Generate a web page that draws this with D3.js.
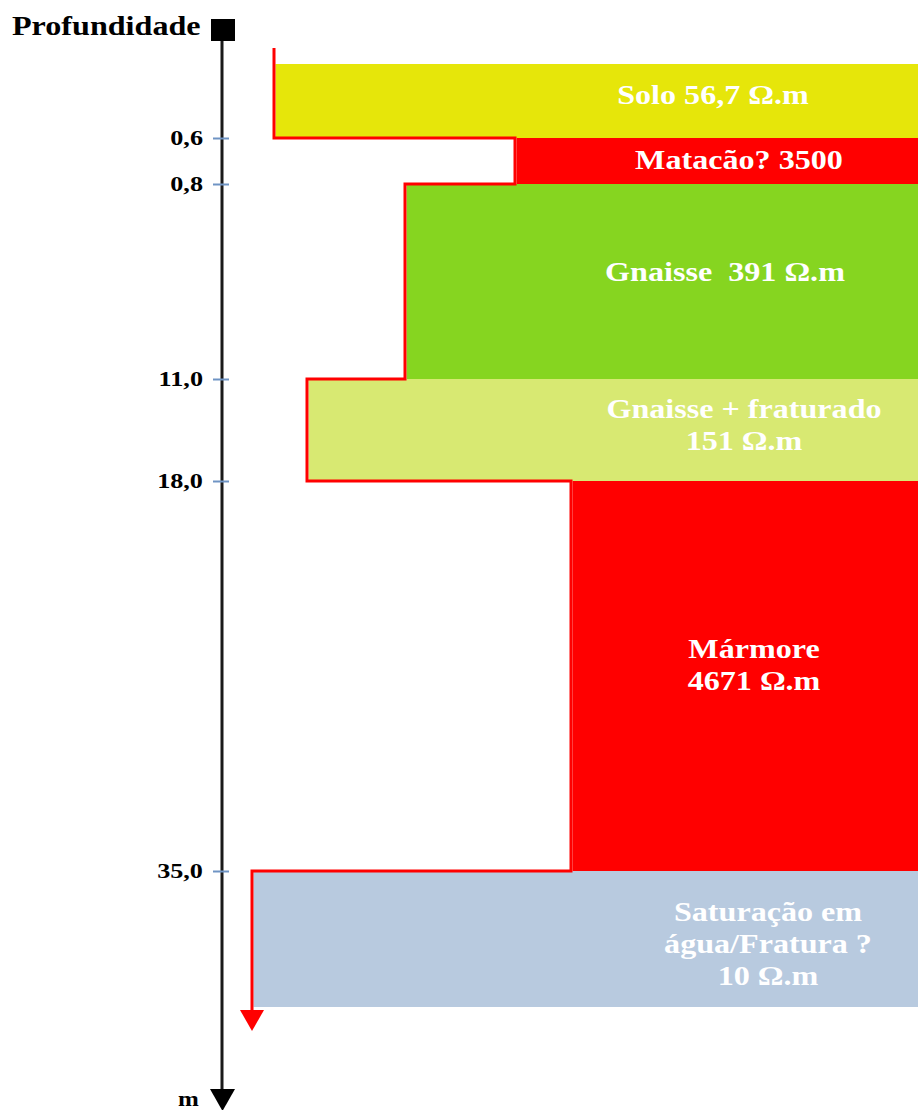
<!DOCTYPE html>
<html>
<head>
<meta charset="utf-8">
<script src="https://cdn.jsdelivr.net/npm/d3@7/dist/d3.min.js"></script>
<style>
  html, body { margin: 0; padding: 0; background: #fff; }
  svg { display: block; }
  text { font-family: "Liberation Serif", "Times New Roman", serif; font-weight: bold; white-space: pre; }
</style>
</head>
<body>
<svg id="chart" width="918" height="1110"></svg>
<script>
// ---------------- DATA ----------------
const layerNames   = ["Solo", "Matacão", "Gnaisse", "Gnaisse + fraturado", "Mármore", "Saturação em água/Fratura"];
const layerLabels  = [
  ["Solo 56,7 Ω.m"],
  ["Matacão? 3500"],
  ["Gnaisse  391 Ω.m"],
  ["Gnaisse + fraturado", "151 Ω.m"],
  ["Mármore", "4671 Ω.m"],
  ["Saturação em", "água/Fratura ?", "10 Ω.m"]
];
const layerTop     = [0, 0.6, 0.8, 11.0, 18.0, 35.0];      // m
const layerBottom  = [0.6, 0.8, 11.0, 18.0, 35.0, 40.0];   // m (last one estimated)
const resistivity  = [56.7, 3500, 391, 151, 4671, 10];     // Ω.m
const depthTicks   = [0.6, 0.8, 11.0, 18.0, 35.0];
const axisTitle    = "Profundidade";
const axisUnit     = "m";

// ---------------- STYLE / LAYOUT ----------------
const layerColors = ["#e6e60a", "#ff0000", "#86d520", "#d8e972", "#ff0000", "#b8cadf"];
const labelCx = [713, 739, 725, 744, 754, 768];
const labelDy = [-6, -1, -9, -5, -11, 5];
const stretch = 1.19;   // horizontal stretch of the original lettering
const W = 918, H = 1110;
const axisX = 222;

const svg = d3.select("#chart");

// piecewise depth scale (schematic, non-linear depth axis)
const y = d3.scaleLinear()
  .domain([0, 0.6, 0.8, 11, 18, 35, 40])
  .range([64, 138, 184, 379, 481, 871, 1007]);

// schematic resistivity scale (monotonic, piecewise)
const x = d3.scaleLinear()
  .domain([10, 56.7, 151, 391, 3500, 4671])
  .range([252, 274, 307, 405, 515, 571]);

const layers = layerNames.map((n, i) => ({
  name: n, top: layerTop[i], bottom: layerBottom[i], rho: resistivity[i],
  color: layerColors[i], label: layerLabels[i], cx: labelCx[i], dy: labelDy[i]
}));

// ---------------- LAYER BOXES ----------------
svg.append("g").selectAll("rect").data(layers).join("rect")
  .attr("x", d => x(d.rho) + 1.5)
  .attr("y", d => y(d.top))
  .attr("width", d => W - x(d.rho))
  .attr("height", d => y(d.bottom) - y(d.top))
  .attr("fill", d => d.color);

// ---------------- RESISTIVITY STEP LINE ----------------
const pts = [[x(layers[0].rho), y(0) - 16]];
layers.forEach((d, i) => {
  pts.push([x(d.rho), y(d.top)]);
  pts.push([x(d.rho), i === layers.length - 1 ? y(d.bottom) + 5 : y(d.bottom)]);
});
svg.append("path")
  .attr("d", d3.line()(pts))
  .attr("fill", "none")
  .attr("stroke", "#ff0000")
  .attr("stroke-width", 3)
  .attr("stroke-linejoin", "miter");
const lastX = x(layers[layers.length - 1].rho);
const lastY = y(layers[layers.length - 1].bottom) + 3;
svg.append("path")
  .attr("d", `M${lastX - 12},${lastY} L${lastX + 12},${lastY} L${lastX},${lastY + 21} Z`)
  .attr("fill", "#ff0000");

// ---------------- LAYER LABELS ----------------
const lineH = 32;
const fs = 27;
layers.forEach(d => {
  const mid = (y(d.top) + y(d.bottom)) / 2 + d.dy;
  const n = d.label.length;
  d.label.forEach((t, k) => {
    const cy = mid + (k - (n - 1) / 2) * lineH;
    svg.append("g")
      .attr("transform", `translate(${d.cx},${cy + fs * 0.33})`)
      .append("text")
      .attr("transform", `scale(${stretch},1)`)
      .attr("text-anchor", "middle")
      .attr("font-size", fs)
      .attr("fill", "#ffffff")
      .text(t);
  });
});

// ---------------- DEPTH AXIS ----------------
svg.append("line")
  .attr("x1", axisX).attr("x2", axisX)
  .attr("y1", 30).attr("y2", 1094)
  .attr("stroke", "#1a1a1a").attr("stroke-width", 3);
svg.append("rect")
  .attr("x", axisX - 11).attr("y", 19)
  .attr("width", 24).attr("height", 22)
  .attr("fill", "#000");
svg.append("path")
  .attr("d", `M${axisX - 12},${1089} L${axisX + 13},${1089} L${axisX + 0.5},${1111} Z`)
  .attr("fill", "#000");

const axis = d3.axisLeft(y)
  .tickValues(depthTicks)
  .tickSize(0)
  .tickFormat(d => d.toFixed(1).replace(".", ","));

const gAxis = svg.append("g")
  .attr("transform", `translate(${axisX},0)`)
  .call(axis);
gAxis.select(".domain").remove();
gAxis.selectAll(".tick line")
  .attr("x1", -9).attr("x2", 7)
  .attr("stroke", "#6f94c4").attr("stroke-width", 2);
gAxis.selectAll(".tick text")
  .attr("x", -16)
  .attr("dy", "0.3em")
  .attr("transform", `scale(${stretch},1)`)
  .attr("font-family", "Liberation Serif, serif")
  .attr("font-weight", "bold")
  .attr("font-size", 22)
  .attr("fill", "#000");

// title & unit
svg.append("g").attr("transform", "translate(12,35)")
  .append("text")
  .attr("transform", `scale(${stretch},1)`)
  .attr("font-size", 27)
  .attr("fill", "#000")
  .text(axisTitle);
svg.append("g").attr("transform", "translate(178,1106)")
  .append("text")
  .attr("transform", `scale(${stretch},1)`)
  .attr("font-size", 21)
  .attr("fill", "#000")
  .text(axisUnit);
</script>
</body>
</html>
